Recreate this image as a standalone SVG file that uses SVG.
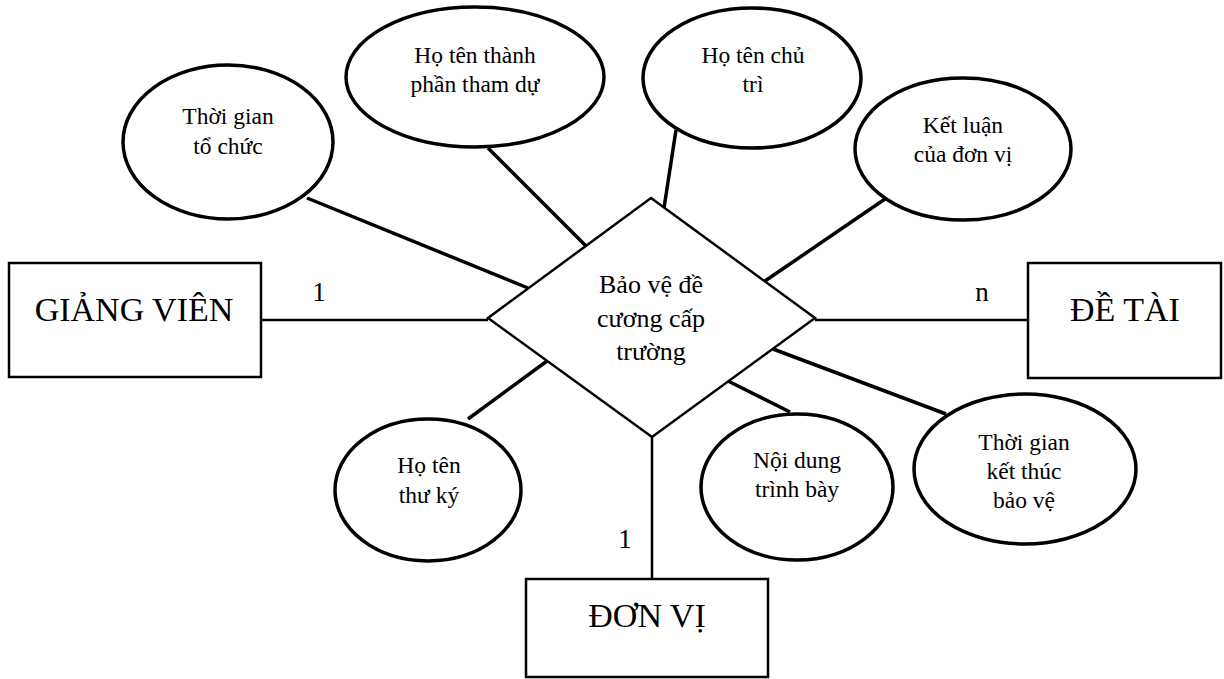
<svg xmlns="http://www.w3.org/2000/svg" width="1224" height="679" viewBox="0 0 1224 679">
<style>
  .bg { fill: #ffffff; }
  .attr { fill: #ffffff; stroke: #000000; stroke-width: 3.5; }
  .ent { fill: #ffffff; stroke: #000000; stroke-width: 2.5; }
  .rel { fill: #ffffff; stroke: #000000; stroke-width: 2.5; }
  .link { stroke: #000000; stroke-width: 3.5; fill: none; }
  .rlink { stroke: #000000; stroke-width: 2.5; fill: none; }
  text { font-family: "Liberation Serif", "Times New Roman", serif; fill: #000000; text-anchor: middle; }
  .ta { font-size: 23.5px; }
  .te { font-size: 34px; }
  .tr { font-size: 26px; }
  .tc { font-size: 27px; }
</style>
<rect class="bg" x="0" y="0" width="1224" height="679"/>
<g id="connectors">
  <line class="link" x1="307" y1="198" x2="528" y2="288"/>
  <line class="link" x1="488" y1="148" x2="586" y2="246"/>
  <line class="link" x1="676" y1="130" x2="664" y2="208"/>
  <line class="link" x1="885" y1="199" x2="765" y2="281"/>
  <line class="link" x1="946" y1="414" x2="773" y2="349"/>
  <line class="link" x1="790" y1="412" x2="728" y2="381"/>
  <line class="link" x1="468" y1="419" x2="547" y2="361"/>
  <line class="rlink" x1="261" y1="320" x2="488" y2="320"/>
  <line class="rlink" x1="815" y1="320" x2="1028" y2="320"/>
  <line class="rlink" x1="652" y1="437" x2="652" y2="579"/>
  <text class="tc" x="319" y="301">1</text>
  <text class="tc" x="982" y="301">n</text>
  <text class="tc" x="625" y="548">1</text>
</g>
<g id="rel-baove">
  <polygon class="rel" points="651,198 815,318 652,437 488,318"/>
  <text class="tr" x="651" y="293">Bảo vệ đề</text>
  <text class="tr" x="651" y="327">cương cấp</text>
  <text class="tr" x="651" y="360">trường</text>
</g>
<g id="ent-giangvien">
  <rect class="ent" x="9" y="263" width="252" height="114"/>
  <text class="te" x="134" y="321">GIẢNG VIÊN</text>
</g>
<g id="ent-detai">
  <rect class="ent" x="1028" y="263" width="193" height="115"/>
  <text class="te" x="1125" y="321">ĐỀ TÀI</text>
</g>
<g id="ent-donvi">
  <rect class="ent" x="526" y="579" width="242" height="98"/>
  <text class="te" x="647" y="627">ĐƠN VỊ</text>
</g>
<g id="attr-thoigian-tochuc">
  <ellipse class="attr" cx="228" cy="142" rx="105" ry="77"/>
  <text class="ta" x="228" y="124">Thời gian</text>
  <text class="ta" x="228" y="154">tổ chức</text>
</g>
<g id="attr-thanhphan">
  <ellipse class="attr" cx="475" cy="77" rx="129" ry="70"/>
  <text class="ta" x="475" y="63">Họ tên thành</text>
  <text class="ta" x="475" y="92">phần tham dự</text>
</g>
<g id="attr-chutri">
  <ellipse class="attr" cx="752" cy="78" rx="109" ry="70"/>
  <text class="ta" x="753" y="63">Họ tên chủ</text>
  <text class="ta" x="753" y="92">trì</text>
</g>
<g id="attr-ketluan">
  <ellipse class="attr" cx="963" cy="149" rx="108" ry="71"/>
  <text class="ta" x="963" y="133">Kết luận</text>
  <text class="ta" x="963" y="162">của đơn vị</text>
</g>
<g id="attr-ketthuc">
  <ellipse class="attr" cx="1025" cy="469" rx="111" ry="75"/>
  <text class="ta" x="1024" y="450">Thời gian</text>
  <text class="ta" x="1024" y="479">kết thúc</text>
  <text class="ta" x="1024" y="508">bảo vệ</text>
</g>
<g id="attr-noidung">
  <ellipse class="attr" cx="797" cy="487" rx="96" ry="73"/>
  <text class="ta" x="797" y="468">Nội dung</text>
  <text class="ta" x="797" y="497">trình bày</text>
</g>
<g id="attr-thuky">
  <ellipse class="attr" cx="428" cy="490" rx="93" ry="71"/>
  <text class="ta" x="429" y="473">Họ tên</text>
  <text class="ta" x="429" y="503">thư ký</text>
</g>
</svg>
